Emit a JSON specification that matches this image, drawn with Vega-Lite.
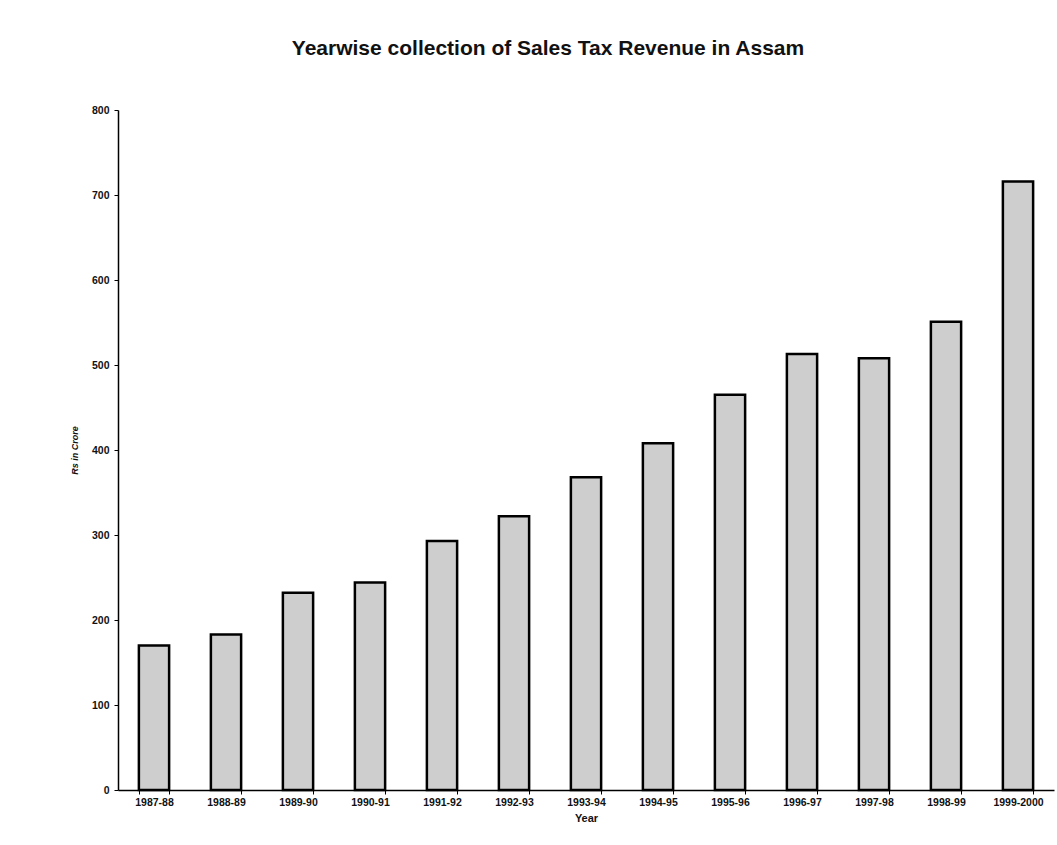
{
  "$schema": "https://vega.github.io/schema/vega-lite/v6.json",
  "width": 936,
  "height": 680,
  "autosize": {"type": "none"},
  "padding": {"left": 118, "top": 110, "right": 3, "bottom": 55},
  "background": "white",
  "title": {
    "text": "Yearwise collection of Sales Tax Revenue in Assam",
    "font": "Liberation Sans",
    "fontSize": 21,
    "fontWeight": "bold",
    "color": "#111",
    "anchor": "middle",
    "dx": -38,
    "offset": 46
  },
  "data": {
    "values": [
      {"year": "1987-88", "revenue": 170},
      {"year": "1988-89", "revenue": 183},
      {"year": "1989-90", "revenue": 232},
      {"year": "1990-91", "revenue": 244},
      {"year": "1991-92", "revenue": 293},
      {"year": "1992-93", "revenue": 322},
      {"year": "1993-94", "revenue": 368},
      {"year": "1994-95", "revenue": 408},
      {"year": "1995-96", "revenue": 465},
      {"year": "1996-97", "revenue": 513},
      {"year": "1997-98", "revenue": 508},
      {"year": "1998-99", "revenue": 551},
      {"year": "1999-2000", "revenue": 716}
    ]
  },
  "mark": {
    "type": "bar",
    "fill": "#cecece",
    "stroke": "#000",
    "strokeWidth": 2.5
  },
  "encoding": {
    "x": {
      "field": "year",
      "type": "nominal",
      "sort": null,
      "scale": {"paddingInner": 0.58, "paddingOuter": 0.29},
      "axis": {
        "title": "Year",
        "titleFont": "Liberation Sans",
        "titleFontSize": 11,
        "titleFontWeight": "bold",
        "titleColor": "#111",
        "titlePadding": 5,
        "labelAngle": 0,
        "labelFont": "Liberation Sans",
        "labelFontSize": 10.5,
        "labelFontWeight": "bold",
        "labelColor": "#111",
        "labelPadding": 3,
        "domainColor": "#000",
        "domainWidth": 1.5,
        "tickColor": "#000",
        "tickSize": 4,
        "tickBand": "extent",
        "grid": false
      }
    },
    "y": {
      "field": "revenue",
      "type": "quantitative",
      "scale": {"domain": [0, 800]},
      "axis": {
        "title": "Rs in Crore",
        "titleFont": "Liberation Sans",
        "titleFontSize": 9,
        "titleFontWeight": "bold",
        "titleFontStyle": "italic",
        "titleColor": "#111",
        "titlePadding": 12,
        "values": [0, 100, 200, 300, 400, 500, 600, 700, 800],
        "labelFont": "Liberation Sans",
        "labelFontSize": 10.5,
        "labelFontWeight": "bold",
        "labelColor": "#111",
        "labelPadding": 5,
        "domainColor": "#000",
        "domainWidth": 1.5,
        "tickColor": "#000",
        "tickSize": 4,
        "grid": false
      }
    }
  },
  "config": {
    "view": {"stroke": null}
  }
}
